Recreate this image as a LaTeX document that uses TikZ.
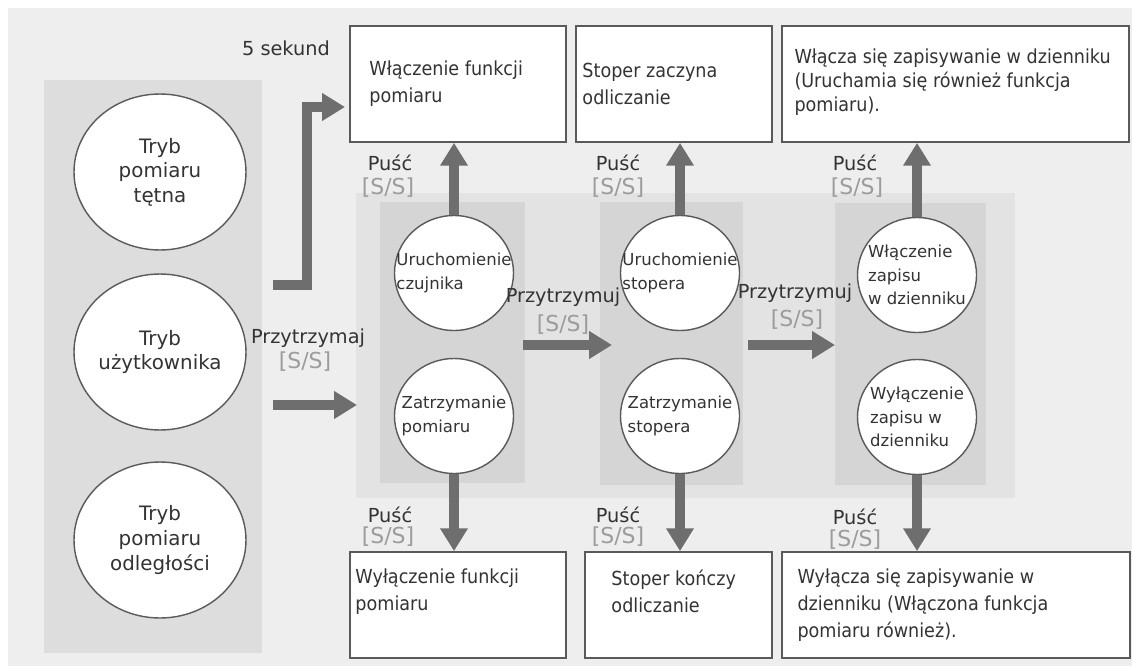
\documentclass[tikz,border=0pt]{standalone}
\usepackage{fontspec}
\setmainfont{DejaVu Sans}
\newfontfamily\boxfont{DejaVu Sans}[FakeStretch=0.91]
\usetikzlibrary{arrows.meta,shapes.geometric}

\definecolor{pagegray}{HTML}{EEEEEE}
\definecolor{panelgray}{HTML}{DDDDDD}
\definecolor{flowgray}{HTML}{E3E3E3}
\definecolor{colgray}{HTML}{D5D5D5}
\definecolor{arrowgray}{HTML}{6E6E6E}
\definecolor{keygray}{HTML}{9C9C9C}
\definecolor{inkgray}{HTML}{333333}
\definecolor{edgegray}{HTML}{5A5A5A}

\tikzset{
  bigarrow/.style={draw=arrowgray, line width=5.4pt, -{Triangle[length=13pt,width=15pt]}},
  modecirc/.style={ellipse, draw=edgegray, line width=0.8pt, fill=white,
    minimum width=3.44cm, minimum height=3.12cm, inner sep=0pt},
  statecirc/.style={ellipse, draw=edgegray, line width=0.8pt, fill=white,
    minimum width=2.38cm, minimum height=2.3cm, inner sep=0pt},
  modetxt/.style={text=inkgray, align=center, inner sep=0pt,
    font=\fontsize{11.3}{14}\selectfont},
  statetxt/.style={text=inkgray, align=left, inner sep=0pt,
    font=\fontsize{9.4}{13.3}\selectfont},
  resbox/.style={draw=edgegray, line width=1pt, fill=white, inner sep=0pt,
    minimum width=#1},
  boxtxt/.style={text=inkgray, align=left, inner sep=0pt, anchor=west,
    font=\boxfont\fontsize{11}{15.2}\selectfont},
  lbl/.style={text=inkgray, inner sep=0pt, font=\fontsize{11}{13}\selectfont},
  key/.style={text=keygray, inner sep=0pt, font=\fontsize{12.5}{14}\selectfont}
}

\begin{document}
\begin{tikzpicture}[x=0.02cm, y=-0.02cm]
\useasboundingbox (0,0) rectangle (1132,666);

% background areas
\fill[white] (0,0) rectangle (1132,666);
\fill[pagegray] (8,8) rectangle (1132,666);
\fill[panelgray] (44,80) rectangle (262,653);
\fill[flowgray] (356,193) rectangle (1015,498);
\fill[colgray] (380,202) rectangle (525,483);
\fill[colgray] (600,202) rectangle (743,485);
\fill[colgray] (835,203) rectangle (986,485);

% modes
\node[modecirc, label={[modetxt]center:{Tryb\\pomiaru\\tętna}}] (modeHR) at (160,172) {};
\node[modecirc, label={[modetxt]center:{Tryb\\użytkownika}}] (modeUser) at (160,352) {};
\node[modecirc, label={[modetxt]center:{Tryb\\pomiaru\\odległości}}] (modeDist) at (160,540) {};

% states
\node[statecirc, label={[statetxt]center:{Uruchomienie\\czujnika}}] (sensorOn) at (454,273) {};
\node[statecirc, label={[statetxt]center:{Zatrzymanie\\pomiaru}}] (measStop) at (454,416) {};
\node[statecirc, label={[statetxt]center:{Uruchomienie\\stopera}}] (swOn) at (680,273) {};
\node[statecirc, label={[statetxt]center:{Zatrzymanie\\stopera}}] (swStop) at (680,416) {};
\node[statecirc, label={[statetxt]center:{Włączenie\\zapisu\\w dzienniku}}] (logStart) at (917,275) {};
\node[statecirc, label={[statetxt]center:{Wyłączenie\\zapisu w\\dzienniku}}] (logStop) at (917,417) {};

% result boxes
\node[resbox=4.32cm, minimum height=2.32cm] (measOn) at (458,84) {};
\node[resbox=3.92cm, minimum height=2.32cm] (stopStart) at (674,84) {};
\node[resbox=6.94cm, minimum height=2.32cm] (logOn) at (955.5,84) {};
\node[resbox=4.32cm, minimum height=2.12cm] (measOff) at (458,605) {};
\node[resbox=3.74cm, minimum height=2.12cm] (stopEnd) at (678.5,605) {};
\node[resbox=6.96cm, minimum height=2.12cm] (logOff) at (956,605) {};

\node[boxtxt] (measOnTxt) at ([xshift=0.4cm]measOn.west) {Włączenie funkcji\\pomiaru};
\node[boxtxt] (stopStartTxt) at ([xshift=0.14cm]stopStart.west) {Stoper zaczyna\\odliczanie};
\node[boxtxt, font=\boxfont\fontsize{11}{13.7}\selectfont] (logOnTxt) at ([xshift=0.26cm,yshift=0.04cm]logOn.west)
  {Włącza się zapisywanie w dzienniku\\(Uruchamia się również funkcja\\pomiaru).};
\node[boxtxt] (measOffTxt) at ([xshift=0.12cm,yshift=0.27cm]measOff.west) {Wyłączenie funkcji\\pomiaru};
\node[boxtxt] (stopEndTxt) at ([xshift=0.54cm,yshift=0.27cm]stopEnd.west) {Stoper kończy\\odliczanie};
\node[boxtxt] (logOffTxt) at ([xshift=0.32cm]logOff.west)
  {Wyłącza się zapisywanie w\\dzienniku (Włączona funkcja\\pomiaru również).};

% labels
\node[lbl] (fiveSec) at (286,48) {5 sekund};
\node[lbl] (holdUser) at (308,338) {Przytrzymaj};
\node[key] (holdUserKey) at (305,362) {[S/S]};
\node[lbl] (holdSw) at (563,297) {Przytrzymuj};
\node[key] (holdSwKey) at (563,325) {[S/S]};
\node[lbl] (holdLog) at (795,293) {Przytrzymuj};
\node[key] (holdLogKey) at (797,320) {[S/S]};

\node[lbl] (relA) at (390,163) {Puść};
\node[key] (relAKey) at (388,188) {[S/S]};
\node[lbl] (relB) at (618,163) {Puść};
\node[key] (relBKey) at (618,188) {[S/S]};
\node[lbl] (relC) at (855,163) {Puść};
\node[key] (relCKey) at (857,188) {[S/S]};
\node[lbl] (relD) at (390,515) {Puść};
\node[key] (relDKey) at (388,537) {[S/S]};
\node[lbl] (relE) at (618,515) {Puść};
\node[key] (relEKey) at (618,537) {[S/S]};
\node[lbl] (relF) at (855,517) {Puść};
\node[key] (relFKey) at (855,540) {[S/S]};

% arrows
\coordinate (fiveStart) at (273,285);
\coordinate (fiveEnd) at (345,107);
\coordinate (userOut) at (273,405);
\coordinate (userIn) at (357,405);
\coordinate (swOut) at (523,345);
\coordinate (swIn) at (612,345);
\coordinate (logOut) at (748,345);
\coordinate (logIn) at (835,345);

\draw[bigarrow] (fiveStart) -- ++(34,0) |- (fiveEnd);
\draw[bigarrow] (userOut) -- (userIn);
\draw[bigarrow] (swOut) -- (swIn);
\draw[bigarrow] (logOut) -- (logIn);

\draw[bigarrow] (sensorOn) -- (sensorOn |- measOn.south);
\draw[bigarrow] (swOn) -- (swOn |- stopStart.south);
\draw[bigarrow] (logStart) -- (logStart |- logOn.south);
\draw[bigarrow] (measStop) -- (measStop |- measOff.north);
\draw[bigarrow] (swStop) -- (swStop |- stopEnd.north);
\draw[bigarrow] (logStop) -- (logStop |- logOff.north);
\end{tikzpicture}
\end{document}
